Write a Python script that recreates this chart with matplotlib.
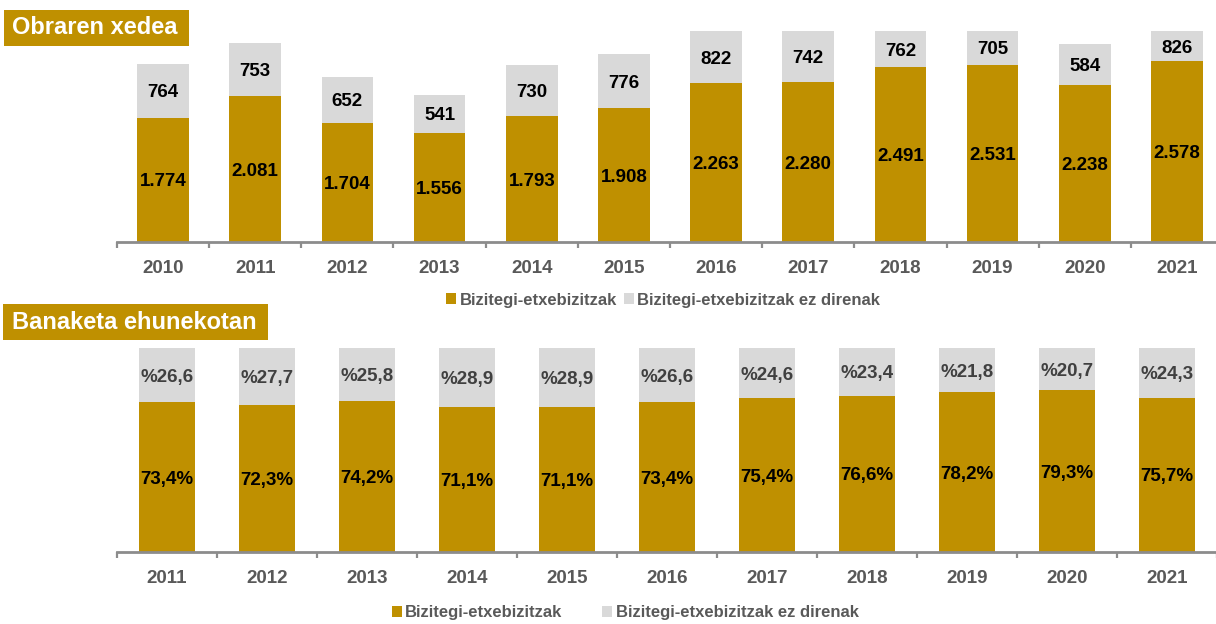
import numpy as np
import matplotlib
matplotlib.use("Agg")
import matplotlib.pyplot as plt
from matplotlib.patches import Rectangle, Patch

plt.rcParams["font.family"] = ["Liberation Sans", "DejaVu Sans"]
plt.rcParams["font.weight"] = "bold"

# --- data ---
years_top = ["2010", "2011", "2012", "2013", "2014", "2015", "2016", "2017", "2018", "2019", "2020", "2021"]
residential = [1774, 2081, 1704, 1556, 1793, 1908, 2263, 2280, 2491, 2531, 2238, 2578]
non_residential = [764, 753, 652, 541, 730, 776, 822, 742, 762, 705, 584, 826]

years_bot = ["2011", "2012", "2013", "2014", "2015", "2016", "2017", "2018", "2019", "2020", "2021"]
pct_residential = [73.4, 72.3, 74.2, 71.1, 71.1, 73.4, 75.4, 76.6, 78.2, 79.3, 75.7]
pct_non_residential = [26.6, 27.7, 25.8, 28.9, 28.9, 26.6, 24.6, 23.4, 21.8, 20.7, 24.3]

legend_labels = ["Bizitegi-etxebizitzak", "Bizitegi-etxebizitzak ez direnak"]

GOLD = "#BF9000"
GREY = "#D9D9D9"
AXIS = "#8C8C8C"
TXT = "#595959"

W, H = 1216, 624
fig = plt.figure(figsize=(W / 100, H / 100), dpi=100)


def px_axes(x0, y0, x1, y1):
    # pixel box (from top-left) -> figure axes
    return fig.add_axes([x0 / W, 1 - y1 / H, (x1 - x0) / W, (y1 - y0) / H])


def style_axis(ax, labels):
    n = len(labels)
    ax.set_xlim(-0.5, n - 0.5)
    for s in ["top", "right", "left"]:
        ax.spines[s].set_visible(False)
    ax.spines["bottom"].set_color(AXIS)
    ax.spines["bottom"].set_linewidth(2)
    ax.set_yticks([])
    ax.set_xticks(np.arange(n))
    ax.set_xticklabels(labels, fontsize=13.5, fontweight="bold", color=TXT)
    ax.set_xticks(np.arange(n + 1) - 0.5, minor=True)
    ax.tick_params(axis="x", which="major", length=0, pad=13)
    ax.tick_params(axis="x", which="minor", length=4, width=1.6, color=AXIS, direction="out")


def title_box(text, x0, y0, x1, y1):
    fig.add_artist(Rectangle((x0 / W, 1 - y1 / H), (x1 - x0) / W, (y1 - y0) / H,
                             transform=fig.transFigure, facecolor=GOLD, edgecolor="none"))
    fig.text(12 / W, 1 - (y0 + y1) / 2 / H, text, color="white", fontsize=17,
             fontweight="bold", va="center", ha="left")


lbl = dict(ha="center", va="center_baseline", fontsize=13.5, fontweight="bold")

# --- top chart: absolute numbers ---
ax1 = px_axes(117, 31, 1223, 242)
x = np.arange(len(years_top))
ymax = 3010
ax1.bar(x, residential, width=0.56, color=GOLD)
ax1.bar(x, non_residential, width=0.56, bottom=residential, color=GREY)
ax1.set_ylim(0, ymax)
style_axis(ax1, years_top)
for i, (r, nr) in enumerate(zip(residential, non_residential)):
    ax1.text(i, r / 2, f"{r:,}".replace(",", "."), color="black", **lbl)
    top = min(r + nr, ymax)
    ax1.text(i, (r + top) / 2, f"{nr:,}".replace(",", "."), color="black", **lbl)

# --- bottom chart: percentages ---
ax2 = px_axes(117, 348, 1217, 552)
x2 = np.arange(len(years_bot))
ax2.bar(x2, pct_residential, width=0.56, color=GOLD)
ax2.bar(x2, pct_non_residential, width=0.56, bottom=pct_residential, color=GREY)
ax2.set_ylim(0, 100)
style_axis(ax2, years_bot)
for i, (r, nr) in enumerate(zip(pct_residential, pct_non_residential)):
    ax2.text(i, r / 2, f"{r:.1f}%".replace(".", ","), color="black", **lbl)
    ax2.text(i, r + nr / 2, f"%{nr:.1f}".replace(".", ","), color="#404040", **lbl)

# --- titles ---
title_box("Obraren xedea", 4, 10, 189, 46)
title_box("Banaketa ehunekotan", 3, 304, 268, 340)

# --- legends ---
handles = [Patch(facecolor=GOLD), Patch(facecolor=GREY)]
leg_kw = dict(ncol=2, frameon=False, handlelength=0.6, handleheight=0.6,
              handletextpad=0.2, loc="center", borderpad=0.1,
              prop={"size": 12, "weight": "bold"})
leg1 = fig.legend(handles, legend_labels, bbox_to_anchor=(663 / W, 1 - 300 / H),
                  columnspacing=0.4, **leg_kw)
leg2 = fig.legend(handles, legend_labels, bbox_to_anchor=(625 / W, 1 - 613 / H),
                  columnspacing=2.4, **leg_kw)
for leg in (leg1, leg2):
    for t in leg.get_texts():
        t.set_color(TXT)

fig.savefig("out.png", dpi=100)
